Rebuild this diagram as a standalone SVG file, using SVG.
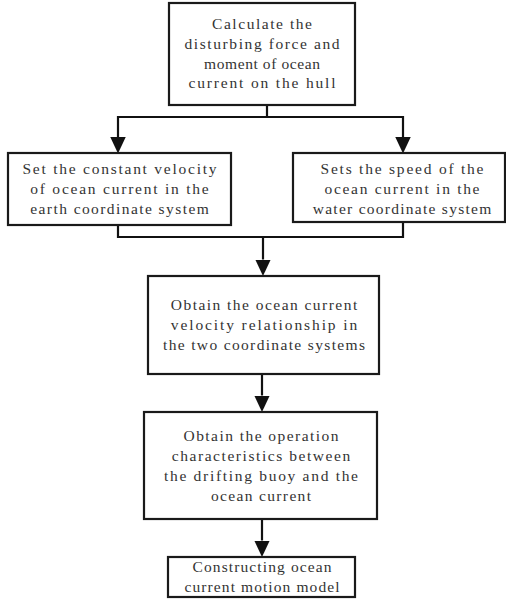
<svg xmlns="http://www.w3.org/2000/svg" width="506" height="599" viewBox="0 0 506 599">
<style>
.box{fill:#fff;stroke:#1a1a1a;stroke-width:2.2}
.t{font-family:"Liberation Serif","DejaVu Serif",serif;font-size:15.5px;fill:#333;text-anchor:middle}
.c{fill:none;stroke:#111;stroke-width:2.2}
</style>
<defs>
<marker id="ah" markerUnits="userSpaceOnUse" markerWidth="17" markerHeight="16" refX="0" refY="7.75" orient="auto">
<path d="M0,0 L16.5,7.75 L0,15.5 z" fill="#111"/>
</marker>
</defs>
<rect width="506" height="599" fill="#fff"/>
<g id="connectors">
<path class="c" d="M267,105 V117 M118,117 H403"/>
<path class="c" d="M118,116 V137" marker-end="url(#ah)"/>
<path class="c" d="M403,116 V137" marker-end="url(#ah)"/>
<path class="c" d="M118,225 V237 H403 V222"/>
<path class="c" d="M263,237 V259.5" marker-end="url(#ah)"/>
<path class="c" d="M262,374 V395.5" marker-end="url(#ah)"/>
<path class="c" d="M262,519 V540.5" marker-end="url(#ah)"/>
</g>
<g id="n1">
<rect class="box" x="169" y="3" width="186" height="102"/>
<text class="t" x="262" y="29.3" textLength="100" lengthAdjust="spacing">Calculate the</text>
<text class="t" x="262" y="49" textLength="155" lengthAdjust="spacing">disturbing force and</text>
<text class="t" x="262" y="68.7" textLength="116" lengthAdjust="spacing">moment of ocean</text>
<text class="t" x="262" y="88.4" textLength="147" lengthAdjust="spacing">current on the hull</text>
</g>
<g id="n2">
<rect class="box" x="8" y="153" width="223" height="72"/>
<text class="t" x="119.5" y="174" textLength="194" lengthAdjust="spacing">Set the constant velocity</text>
<text class="t" x="119.5" y="194" textLength="178.5" lengthAdjust="spacing">of ocean current in the</text>
<text class="t" x="119.5" y="214" textLength="178.5" lengthAdjust="spacing">earth coordinate system</text>
</g>
<g id="n3">
<rect class="box" x="293" y="153" width="212" height="69"/>
<text class="t" x="402" y="173.5" textLength="163" lengthAdjust="spacing">Sets the speed of the</text>
<text class="t" x="402" y="193.5" textLength="155" lengthAdjust="spacing">ocean current in the</text>
<text class="t" x="402" y="213.5" textLength="178.5" lengthAdjust="spacing">water coordinate system</text>
</g>
<g id="n4">
<rect class="box" x="148" y="276" width="231" height="98"/>
<text class="t" x="264" y="310" textLength="186.4" lengthAdjust="spacing">Obtain the ocean current</text>
<text class="t" x="264" y="330" textLength="186.4" lengthAdjust="spacing">velocity relationship in</text>
<text class="t" x="264" y="349.5" textLength="202" lengthAdjust="spacing">the two coordinate systems</text>
</g>
<g id="n5">
<rect class="box" x="144" y="412" width="233" height="107"/>
<text class="t" x="261" y="441" textLength="155" lengthAdjust="spacing">Obtain the operation</text>
<text class="t" x="261" y="461" textLength="178.5" lengthAdjust="spacing">characteristics between</text>
<text class="t" x="261" y="481" textLength="194" lengthAdjust="spacing">the drifting buoy and the</text>
<text class="t" x="261" y="501" textLength="100" lengthAdjust="spacing">ocean current</text>
</g>
<g id="n6">
<rect class="box" x="168" y="557" width="187" height="40"/>
<text class="t" x="262" y="572" textLength="139" lengthAdjust="spacing">Constructing ocean</text>
<text class="t" x="262" y="592" textLength="155" lengthAdjust="spacing">current motion model</text>
</g>
</svg>
